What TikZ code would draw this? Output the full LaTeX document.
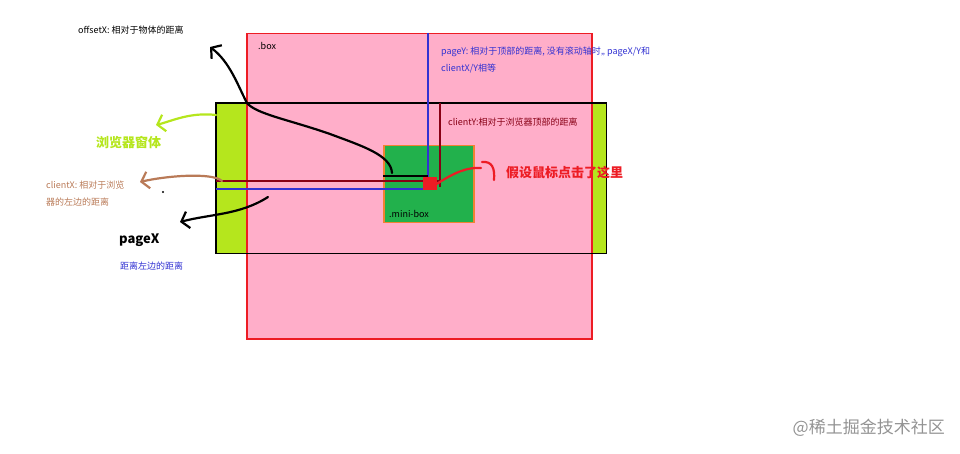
\documentclass[tikz,border=0pt]{standalone}
\usepackage{fontspec}
\setmainfont{Noto Sans CJK SC}
\usetikzlibrary{arrows.meta, positioning}
\definecolor{boxpink}{RGB}{255,174,201}
\definecolor{boxred}{RGB}{237,28,36}
\definecolor{winlime}{RGB}{181,230,29}
\definecolor{minigreen}{RGB}{34,177,76}
\definecolor{miniorange}{RGB}{240,130,50}
\definecolor{pageblue}{RGB}{50,50,210}
\definecolor{clientred}{RGB}{136,0,21}
\definecolor{clientbrown}{RGB}{185,122,87}

\begin{document}
\begin{tikzpicture}[x=1pt,y=-1pt,
  note/.style={font=\fontsize{9}{11}\selectfont, inner sep=0pt, anchor=west},
  bignote/.style={font=\fontsize{13}{15}\selectfont\bfseries, inner sep=0pt, anchor=west},
  pen/.style={line width=2.2pt, line cap=round, line join=round},
  barb/.style={-{Straight Barb[length=7pt,width=17pt,line width=2.2pt]}}]
\useasboundingbox (0,0) rectangle (960,454);
% browser window, .box and .mini-box
\node[fill=winlime, minimum width=390pt, minimum height=150pt, anchor=north west, inner sep=0pt] (window) at (216,103) {};
\node[draw=boxred, fill=boxpink, line width=1.5pt, minimum width=345pt, minimum height=305pt, anchor=north west, inner sep=0pt] (box) at (246,33) {};
\draw[line width=1.8pt] (window.north west) rectangle (window.south east);
\node[draw=miniorange, fill=minigreen, line width=1.5pt, minimum width=90pt, minimum height=77pt, anchor=north west, inner sep=0pt] (minibox) at (383,145) {};
\coordinate (click) at (429.5,184);
% page, client and offset lines
\draw[pageblue, line width=2pt] (box.north -| 428,0) -- (428,189) -- (window.west |- 0,189);
\draw[clientred, line width=2pt] (window.west |- 0,181) -- (440,181);
\draw[line width=2pt] (minibox.west |- 0,176) -- (428,176);
\node[fill=boxred, minimum width=14pt, minimum height=13pt, inner sep=0pt] (mouse) at (click) {};
\draw[clientred, line width=2pt] (window.north -| 440,0) -- (440,187);
% hand drawn arrows
\draw[pen, barb] (392,173) .. controls (391,155) and (362,146) .. (330,134) .. controls (290,120) and (256,114) .. (247,103) .. controls (238,86) and (230,62) .. (210,47);
\draw[pen, winlime, barb] (window.west |- 0,115) .. controls (190,112) and (172,121) .. (156,125);
\draw[pen, clientbrown, barb] (222,181) .. controls (212,172) and (165,176) .. (140,182);
\draw[pen, barb] (268,197) .. controls (240,215) and (210,214) .. (180,222);
\draw[pen, boxred] (mouse.east) .. controls (455,172) and (468,167) .. (481,168);
\draw[pen, boxred] (482,162) .. controls (492,161) and (495,168) .. (494,180);
\fill (163,192) circle (1.2pt);
% texts
\node[note] (offsetxtext) at (78,30) {offsetX: 相对于物体的距离};
\node[note] (boxname) at (258,46) {.box};
\node[note, pageblue] (pageytext) at (441,52) {pageY: 相对于顶部的距离, 没有滚动轴时,, pageX/Y和};
\node[note, pageblue] (pageytext2) at (441,69) {clientX/Y相等};
\node[note, clientred] (clientytext) at (448,122) {clientY:相对于浏览器顶部的距离};
\node[bignote, winlime] (windowtext) at (96,143) {浏览器窗体};
\node[note, clientbrown] (clientxtext) at (46,185) {clientX: 相对于浏览};
\node[note, clientbrown] (clientxtext2) at (46,202) {器的左边的距离};
\node[bignote] (pagextext) at (119,240) {pageX};
\node[note, pageblue] (pagextext2) at (120,266) {距离左边的距离};
\node[note] (mininame) at (389,214) {.mini-box};
\node[bignote, boxred] (mousetext) at (506,173) {假设鼠标点击了这里};
\node[font=\fontsize{17}{19}\selectfont, text=gray!85, anchor=east, inner sep=0pt] (mark) at (945,428) {@稀土掘金技术社区};
\end{tikzpicture}
\end{document}
